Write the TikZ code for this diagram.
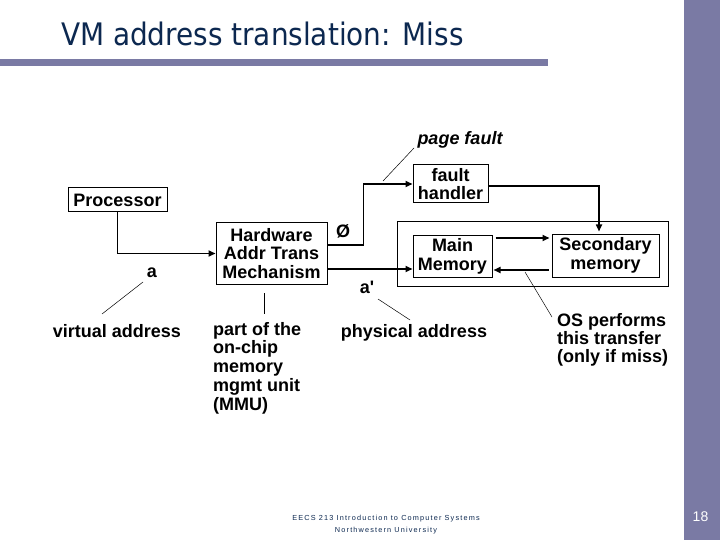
\documentclass[tikz,border=0pt]{standalone}
\usepackage{fontspec}
\setmainfont{Liberation Sans}
\newfontfamily\titlefont{DejaVu Sans Condensed}
\newfontfamily\footfont[LetterSpace=16]{Liberation Sans}
\usetikzlibrary{arrows.meta}
\definecolor{barcol}{RGB}{122,122,164}
\definecolor{titlecol}{RGB}{12,40,80}
\begin{document}
\begin{tikzpicture}[x=1pt,y=-1pt,
  box/.style={draw, line width=1pt, inner sep=0pt, align=center, font=\bfseries\fontsize{18}{18.8}\selectfont},
  lbl/.style={inner sep=0pt, font=\bfseries\fontsize{18}{18.7}\selectfont},
  arr/.style={line width=1.6pt, -{Triangle[length=7pt,width=6pt]}},
  lead/.style={line width=0.5pt}]
\useasboundingbox (0,0) rectangle (720,540);
\fill[white] (0,0) rectangle (720,540);
\fill[barcol] (684,0) rectangle (720,540);
\fill[barcol] (0,59.5) rectangle (548,66);
\node[anchor=base west, inner sep=0pt, text=titlecol, font=\titlefont\fontsize{31}{31}\selectfont] (title) at (61,46) {VM address translation: Miss};

% boxes
\node[box, minimum width=99, minimum height=24] (proc) at (117.5,200) {Processor};
\node[box, minimum width=111, minimum height=61] (hw) at (271.5,253.5) {Hardware\\Addr Trans\\Mechanism};
\node[box, minimum width=75, minimum height=38] (fh) at (450.5,184) {fault\\handler};
\node[draw, line width=1pt, minimum width=271, minimum height=64] (outer) at (532.5,254) {};
\node[box, minimum width=79, minimum height=42] (mm) at (452.5,256) {Main\\Memory};
\node[box, minimum width=107, minimum height=43] (sec) at (605.5,255.5) {Secondary\\memory};

% arrows
\draw[arr] (proc.south) |- (hw.west);
\draw[arr] ([yshift=8.5pt]hw.east) -- ++(36,0) |- (fh.west);
\draw[arr] ([yshift=-15.5pt]hw.east) -- ([yshift=-13pt]mm.west);
\draw[arr, shorten <=3pt, shorten >=2pt] ([yshift=18pt]mm.east) -- ([yshift=17.5pt]sec.west);
\draw[arr, shorten <=3pt, shorten >=1pt] ([yshift=-14.5pt]sec.west) -- ([yshift=-14pt]mm.east);
\draw[arr, shorten >=2pt] ([yshift=-2pt]fh.east) -| ([xshift=-6.5pt]sec.north);

% labels
\node[lbl, anchor=base] (a) at (152,277) {a};
\node[lbl, anchor=base] (va) at (117,337) {virtual address};
\node[lbl, anchor=north west, align=left] (mmu) at (213,322) {part of the\\on-chip\\memory\\mgmt unit\\(MMU)};
\node[lbl, anchor=base] (aprime) at (367,293) {a\textquotesingle};
\node[lbl, anchor=base] (pa) at (414,337) {physical address};
\node[lbl, anchor=north west, align=left, font=\bfseries\fontsize{18}{18}\selectfont] (os) at (557,313) {OS performs\\this transfer\\(only if miss)};
\node[lbl, anchor=base, font=\bfseries\itshape\fontsize{18}{18}\selectfont] (pf) at (460,145) {page fault};
\node[lbl, anchor=base] (phi) at (343,237) {Ø};

% leader lines
\coordinate (l1a) at (143,282); \coordinate (l1b) at (102,314);
\coordinate (l2a) at (264,293); \coordinate (l2b) at (264,314);
\coordinate (l3a) at (414,148); \coordinate (l3b) at (383,181);
\coordinate (l4a) at (378,299); \coordinate (l4b) at (410,320);
\coordinate (l5a) at (525,272); \coordinate (l5b) at (552,317);
\draw[lead] (l1a) -- (l1b);
\draw[lead] (l2a) -- (l2b);
\draw[lead] (l3a) -- (l3b);
\draw[lead] (l4a) -- (l4b);
\draw[lead] (l5a) -- (l5b);

% footer
\node[text=titlecol, font=\footfont\fontsize{7.3}{12}\selectfont, align=center] (foot) at (386,525) {EECS 213 Introduction to Computer Systems\\Northwestern University};
\node[text=white, inner sep=0pt, anchor=base, font=\fontsize{14}{14}\selectfont] (pg) at (700.5,521) {18};
\end{tikzpicture}
\end{document}
